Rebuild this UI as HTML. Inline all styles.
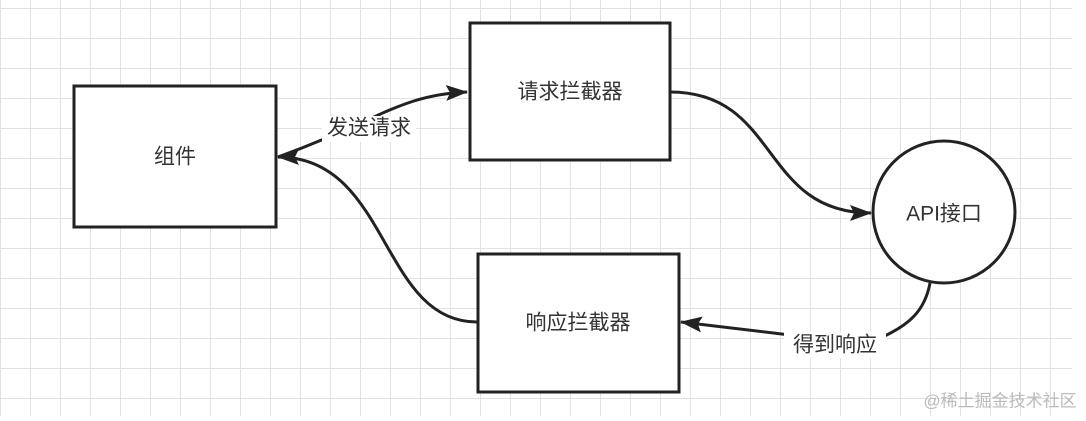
<!DOCTYPE html>
<html><head><meta charset="utf-8"><style>
body{margin:0;width:1086px;height:416px;overflow:hidden;background:#fff;font-family:"Liberation Sans","Noto Sans CJK SC",sans-serif}
</style></head><body>
<svg width="1086" height="416" xmlns="http://www.w3.org/2000/svg">
<defs>
<pattern id="g" x="0" y="8" width="30" height="30" patternUnits="userSpaceOnUse">
<path d="M0 0H30M0 0V30" stroke="#e2e2e2" stroke-width="2" fill="none"/>
</pattern>
<marker id="a" markerWidth="22" markerHeight="16" refX="21" refY="8" orient="auto" markerUnits="userSpaceOnUse"><path d="M0 0L22 8L0 16L4 8Z" fill="#222"/></marker>
</defs>
<rect x="0" y="0" width="1072" height="416" fill="url(#g)"/>
<g stroke="#222" stroke-width="3" fill="none">
<path d="M278 157C380 120 400 95 467 92" marker-end="url(#a)"/>
<path d="M670 92C780 92 760 213 871 213" marker-end="url(#a)"/>
<path d="M930 283C925 310 910 325 880 338" />
<path d="M790 335L681 322" marker-end="url(#a)"/>
<path d="M477 322C380 322 390 157 278 157" marker-end="url(#a)"/>
</g>
<g stroke="#222" stroke-width="3" fill="#fff">
<rect x="74" y="86" width="202" height="141"/>
<rect x="470" y="23" width="200" height="137"/>
<rect x="478" y="254" width="201" height="138"/>
<circle cx="944" cy="212" r="71"/>
</g>
<rect x="322" y="116" width="94" height="26" fill="#fff"/>
<rect x="784" y="332" width="102" height="26" fill="#fff"/>
<g font-size="21" fill="#333" text-anchor="middle" dominant-baseline="central">
<text x="175" y="157">组件</text>
<text x="570" y="92">请求拦截器</text>
<text x="578" y="323">响应拦截器</text>
<text x="944" y="214">API接口</text>
<text x="369" y="128">发送请求</text>
<text x="835" y="345">得到响应</text>
</g>
<text x="1000" y="401" font-size="17" fill="#bbb" text-anchor="middle" dominant-baseline="central">@稀土掘金技术社区</text>
</svg>
</body></html>
